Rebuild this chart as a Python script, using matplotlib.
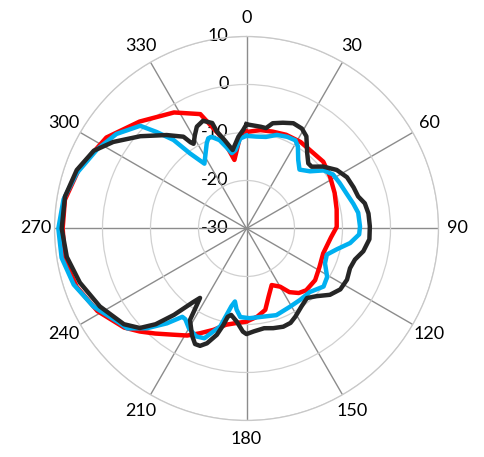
import numpy as np
import matplotlib.pyplot as plt

plt.rcParams['font.family'] = ['Lato', 'DejaVu Sans']

# radiation pattern (angle in degrees, gain in dB)
red_deg = [0, 8, 15, 23, 32, 42, 49, 58, 68, 78, 89, 96, 108, 118, 127, 136,
           141, 146, 150, 156, 162, 167, 173, 180, 186, 192, 198, 204, 209,
           215, 221, 226, 231, 241, 251, 260, 270, 279, 290, 303, 315, 328,
           338, 344, 347, 350, 353, 356]
red_db = [-9.9, -9.3, -9.1, -8.8, -8.75, -9.0, -8.8, -9.5, -10.2, -10.8, -11.2,
          -12.3, -13.2, -12.8, -12.1, -12.1, -12.7, -14.0, -16.0, -17.1, -15.1,
          -12.6, -11.5, -10.6, -10.2, -9.5, -7.8, -6.1, -4.5, -3.0, -1.0, 0.9,
          2.8, 5.5, 7.4, 8.4, 8.3, 8.3, 7.0, 4.8, 1.5, -1.5, -4.3, -9.8, -12.9,
          -15.5, -13.5, -10.8]

blue_deg = [0, 6, 12, 18, 24, 29, 32, 37, 42, 48, 53, 58, 64, 71, 77, 82, 89,
            93, 98, 103, 108, 114, 121, 127, 135, 143, 151, 161, 169, 178, 184,
            187, 189, 191, 195, 201, 205, 210, 214, 216, 220, 225, 230, 233,
            243, 252, 261, 270, 279, 288, 298, 306, 314, 317, 320.5, 323, 327,
            335, 337, 339, 343, 346, 349, 352, 356]
blue_db = [-10.7, -10.75, -10.5, -9.5, -9.1, -9.0, -9.8, -12.1, -13.5, -12.2,
           -9.9, -8.75, -8.4, -7.9, -7.15, -6.5, -6.35, -6.5, -8.2, -10.7,
           -12.4, -12.1, -10.4, -9.9, -11.3, -11.4, -11.35, -10.9, -11.3,
           -11.3, -11.5, -13.0, -14.6, -13.5, -8.9, -5.5, -5.2, -6.0, -7.2,
           -7.25, -4.2, -0.6, 2.4, 2.9, 5.8, 7.85, 9.0, 9.2, 8.6, 7.2, 5.2, 3.5,
           0.8, -2.5, -6.1, -10.4, -13.9, -10.4, -9.6, -9.55, -10.75, -12.5,
           -14.0, -13.5, -11.2]

black_deg = [0, 8, 11, 14, 19, 24, 29, 33, 39, 43.5, 46.5, 51, 57, 63, 69, 74,
             78, 83, 89, 95, 101, 106, 111, 117, 123, 128.5, 134, 139, 145,
             151, 155, 159.5, 165, 170, 176, 180, 182, 186, 190, 192, 193.5,
             195.6, 199, 201.6, 204, 207, 211.7, 213.8, 216, 218, 220, 223.5,
             227, 232, 242, 252, 261, 270, 280, 289, 297, 303, 311, 319.5,
             325.5, 327, 328, 331, 334, 338, 342, 343, 346, 350, 355, 358]
black_db = [-8.3, -8.6, -8.7, -7.4, -6.7, -6.0, -6.2, -7.1, -9.9, -11.3, -11.3,
            -9.5, -7.6, -6.5, -6.1, -5.8, -4.8, -4.4, -4.3, -4.3, -5.2, -6.5,
            -6.9, -6.5, -6.7, -7.8, -9.7, -10.8, -10.1, -9.0, -8.3, -8.15,
            -8.5, -8.9, -8.5, -8.0, -8.5, -10.5, -11.7, -11.2, -9.3, -7.0,
            -4.7, -3.7, -3.65, -5.0, -7.6, -12.6, -11.0, -9.0, -6.5, -2.5, 0.4,
            2.4, 4.6, 6.5, 7.9, 8.5, 8.4, 7.4, 5.7, 3.1, -0.7, -4.4, -6.8,
            -8.6, -9.2, -7.8, -6.4, -5.8, -6.9, -8.9, -11.0, -13.4, -10.8, -9.5]

r_ticks = [-30, -20, -10, 0, 10]
theta_ticks = list(range(0, 360, 30))


def closed(deg, db):
    """close the loop so the pattern ends where it started"""
    th = np.deg2rad(np.append(deg, deg[0]))
    return th, np.append(db, db[0])


fig = plt.figure(figsize=(4.84, 4.57), dpi=100)
ax = fig.add_axes([0.1126, 0.0799, 0.7934, 0.8403], projection='polar')
ax.set_theta_zero_location('N')
ax.set_theta_direction(-1)
ax.set_ylim(-30, 10)

for deg, db, col in [(red_deg, red_db, '#ff0000'),
                     (blue_deg, blue_db, '#00b0f0'),
                     (black_deg, black_db, '#262626')]:
    th, r = closed(deg, db)
    ax.plot(th, r, color=col, lw=3.2, solid_joinstyle='round', zorder=3)

ax.set_thetagrids(theta_ticks, [str(t) for t in theta_ticks])
ax.set_rgrids(r_ticks, [''] * len(r_ticks))
ax.xaxis.grid(True, color='#8c8c8c', lw=1.0)
ax.yaxis.grid(True, color='#d0d0d0', lw=0.9)
ax.spines['polar'].set_color('#c8c8c8')
ax.spines['polar'].set_linewidth(0.9)
ax.tick_params(axis='x', pad=3, labelsize=13, colors='black')

# radial labels sit left of the 0 degree spoke
for v in r_ticks:
    ax.annotate(str(v), xy=(0, v), xytext=(-13, 0), textcoords='offset points',
                ha='right', va='center', fontsize=13, zorder=1,
                annotation_clip=False)

fig.savefig('out.png', dpi=100)
